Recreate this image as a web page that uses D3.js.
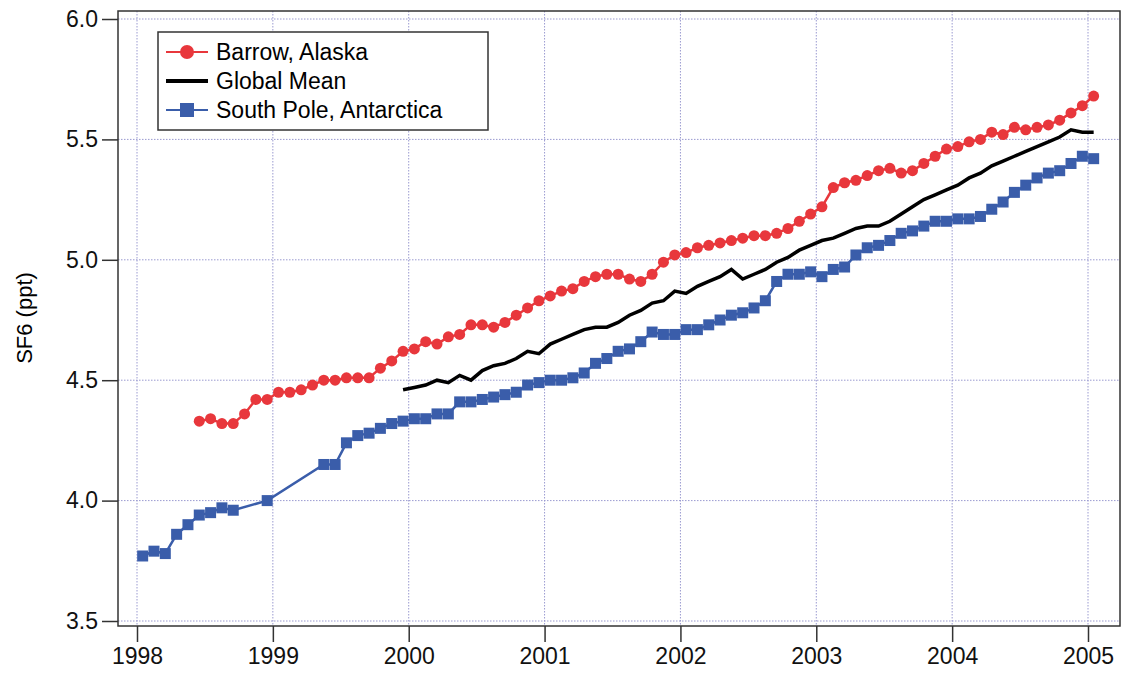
<!DOCTYPE html>
<html>
<head>
<meta charset="utf-8">
<script src="https://cdn.jsdelivr.net/npm/d3@7"></script>
<style>
  body { margin: 0; background: #fff; }
  text { font-family: "Liberation Sans", Arial, sans-serif; }
</style>
</head>
<body>
<div id="chart"></div>
<script>
// Data set (monthly values, mid-month)
let barrowStart = "1998-06";
let barrow = [4.33, 4.34, 4.32, 4.32, 4.36, 4.42, 4.42,
  4.45, 4.45, 4.46, 4.48, 4.50, 4.50, 4.51, 4.51, 4.51, 4.55, 4.58, 4.62,
  4.63, 4.66, 4.65, 4.68, 4.69, 4.73, 4.73, 4.72, 4.74, 4.77, 4.80, 4.83,
  4.85, 4.87, 4.88, 4.91, 4.93, 4.94, 4.94, 4.92, 4.91, 4.94, 4.99, 5.02,
  5.03, 5.05, 5.06, 5.07, 5.08, 5.09, 5.10, 5.10, 5.11, 5.13, 5.16, 5.19,
  5.22, 5.30, 5.32, 5.33, 5.35, 5.37, 5.38, 5.36, 5.37, 5.40, 5.43, 5.46,
  5.47, 5.49, 5.50, 5.53, 5.52, 5.55, 5.54, 5.55, 5.56, 5.58, 5.61, 5.64,
  5.68];

let globalStart = "1999-12";
let globalMean = [4.46,
  4.47, 4.48, 4.50, 4.49, 4.52, 4.50, 4.54, 4.56, 4.57, 4.59, 4.62, 4.61,
  4.65, 4.67, 4.69, 4.71, 4.72, 4.72, 4.74, 4.77, 4.79, 4.82, 4.83, 4.87,
  4.86, 4.89, 4.91, 4.93, 4.96, 4.92, 4.94, 4.96, 4.99, 5.01, 5.04, 5.06,
  5.08, 5.09, 5.11, 5.13, 5.14, 5.14, 5.16, 5.19, 5.22, 5.25, 5.27, 5.29,
  5.31, 5.34, 5.36, 5.39, 5.41, 5.43, 5.45, 5.47, 5.49, 5.51, 5.54, 5.53,
  5.53];

let southPoleDates = ["1998-01", "1998-02", "1998-03", "1998-04", "1998-05", "1998-06",
  "1998-07", "1998-08", "1998-09", "1998-12",
  "1999-05", "1999-06", "1999-07", "1999-08", "1999-09", "1999-10", "1999-11", "1999-12",
  "2000-01", "2000-02", "2000-03", "2000-04", "2000-05", "2000-06",
  "2000-07", "2000-08", "2000-09", "2000-10", "2000-11", "2000-12",
  "2001-01", "2001-02", "2001-03", "2001-04", "2001-05", "2001-06",
  "2001-07", "2001-08", "2001-09", "2001-10", "2001-11", "2001-12",
  "2002-01", "2002-02", "2002-03", "2002-04", "2002-05", "2002-06",
  "2002-07", "2002-08", "2002-09", "2002-10", "2002-11", "2002-12",
  "2003-01", "2003-02", "2003-03", "2003-04", "2003-05", "2003-06",
  "2003-07", "2003-08", "2003-09", "2003-10", "2003-11", "2003-12",
  "2004-01", "2004-02", "2004-03", "2004-04", "2004-05", "2004-06",
  "2004-07", "2004-08", "2004-09", "2004-10", "2004-11", "2004-12",
  "2005-01"];
let southPole = [3.77, 3.79, 3.78, 3.86, 3.90, 3.94, 3.95, 3.97, 3.96, 4.00,
  4.15, 4.15, 4.24, 4.27, 4.28, 4.30, 4.32, 4.33,
  4.34, 4.34, 4.36, 4.36, 4.41, 4.41, 4.42, 4.43, 4.44, 4.45, 4.48, 4.49,
  4.50, 4.50, 4.51, 4.53, 4.57, 4.59, 4.62, 4.63, 4.66, 4.70, 4.69, 4.69,
  4.71, 4.71, 4.73, 4.75, 4.77, 4.78, 4.80, 4.83, 4.91, 4.94, 4.94, 4.95,
  4.93, 4.96, 4.97, 5.02, 5.05, 5.06, 5.08, 5.11, 5.12, 5.14, 5.16, 5.16,
  5.17, 5.17, 5.18, 5.21, 5.24, 5.28, 5.31, 5.34, 5.36, 5.37, 5.40, 5.43,
  5.42];

let xTicks = [1998, 1999, 2000, 2001, 2002, 2003, 2004, 2005];
let yTicks = [3.5, 4.0, 4.5, 5.0, 5.5, 6.0];

// "YYYY-MM" -> decimal year at mid-month
let toYear = function (s) {
  let p = s.split("-");
  return +p[0] + (+p[1] - 0.5) / 12;
};
let monthly = function (start, vals) {
  let y0 = toYear(start);
  return vals.map(function (v, i) { return { x: y0 + i / 12, y: v }; });
};

let barrowPts = monthly(barrowStart, barrow);
let globalPts = monthly(globalStart, globalMean);
let spPts = southPole.map(function (v, i) { return { x: toYear(southPoleDates[i]), y: v }; });

let svg = d3.select("#chart").append("svg")
  .attr("width", 1137)
  .attr("height", 683);

let x = d3.scaleLinear().domain([1998, 2005]).range([137, 1088]);
let y = d3.scaleLinear().domain([3.5, 6.0]).range([621, 19]);

// Grid
svg.append("g").selectAll("line").data(xTicks).enter().append("line")
  .attr("x1", function (d) { return x(d); }).attr("x2", function (d) { return x(d); })
  .attr("y1", 11).attr("y2", 626)
  .attr("stroke", "#9a9ad0").attr("stroke-width", 1).attr("stroke-dasharray", "1.5,1.5");
svg.append("g").selectAll("line").data(yTicks).enter().append("line")
  .attr("y1", function (d) { return y(d); }).attr("y2", function (d) { return y(d); })
  .attr("x1", 118).attr("x2", 1120)
  .attr("stroke", "#9a9ad0").attr("stroke-width", 1).attr("stroke-dasharray", "1.5,1.5");

// Frame
svg.append("rect").attr("x", 118).attr("y", 11).attr("width", 1002).attr("height", 615)
  .attr("fill", "none").attr("stroke", "#333").attr("stroke-width", 1.5);

// Axes
let yAxis = svg.append("g").attr("transform", "translate(118,0)")
  .call(d3.axisLeft(y).tickValues(yTicks).tickFormat(d3.format(".1f")).tickSize(16).tickPadding(4));
let xAxis = svg.append("g").attr("transform", "translate(0,626)")
  .call(d3.axisBottom(x).tickValues(xTicks).tickFormat(d3.format("d")).tickSize(16).tickPadding(6));
[yAxis, xAxis].forEach(function (a) {
  a.select(".domain").remove();
  a.selectAll("line").attr("stroke", "#333").attr("stroke-width", 1.5);
  a.selectAll("text").attr("font-size", 23).attr("fill", "#111")
    .style("font-family", "Liberation Sans, Arial, sans-serif");
});

svg.append("text")
  .attr("transform", "translate(32,318) rotate(-90)")
  .attr("text-anchor", "middle")
  .attr("font-size", 22)
  .text("SF6 (ppt)");

let line = d3.line().x(function (d) { return x(d.x); }).y(function (d) { return y(d.y); });

let red = "#e8373c", blue = "#3a5daa";

// Barrow
svg.append("path").datum(barrowPts).attr("d", line)
  .attr("fill", "none").attr("stroke", red).attr("stroke-width", 2.5);
svg.append("g").selectAll("circle").data(barrowPts).enter().append("circle")
  .attr("cx", function (d) { return x(d.x); }).attr("cy", function (d) { return y(d.y); })
  .attr("r", 5.5).attr("fill", red);

// South Pole
svg.append("path").datum(spPts).attr("d", line)
  .attr("fill", "none").attr("stroke", blue).attr("stroke-width", 2.5);
svg.append("g").selectAll("rect").data(spPts).enter().append("rect")
  .attr("x", function (d) { return x(d.x) - 5.5; }).attr("y", function (d) { return y(d.y) - 5.5; })
  .attr("width", 11).attr("height", 11).attr("fill", blue);

// Global mean
svg.append("path").datum(globalPts).attr("d", line)
  .attr("fill", "none").attr("stroke", "#000").attr("stroke-width", 3.5);

// Legend
let lg = svg.append("g").attr("transform", "translate(158,32)");
lg.append("rect").attr("width", 330).attr("height", 98)
  .attr("fill", "#fff").attr("stroke", "#333").attr("stroke-width", 1.5);
let items = [
  { name: "Barrow, Alaska", color: red, mark: "circle" },
  { name: "Global Mean", color: "#000", mark: "none" },
  { name: "South Pole, Antarctica", color: blue, mark: "square" }
];
items.forEach(function (it, i) {
  let cy = 20 + i * 29;
  lg.append("line").attr("x1", 8).attr("x2", 50).attr("y1", cy).attr("y2", cy)
    .attr("stroke", it.color).attr("stroke-width", it.mark === "none" ? 4 : 2);
  if (it.mark === "circle") lg.append("circle").attr("cx", 29).attr("cy", cy).attr("r", 7).attr("fill", it.color);
  if (it.mark === "square") lg.append("rect").attr("x", 22).attr("y", cy - 7).attr("width", 14).attr("height", 14).attr("fill", it.color);
  lg.append("text").attr("x", 58).attr("y", cy + 8).attr("font-size", 23).text(it.name);
});
</script>
</body>
</html>
